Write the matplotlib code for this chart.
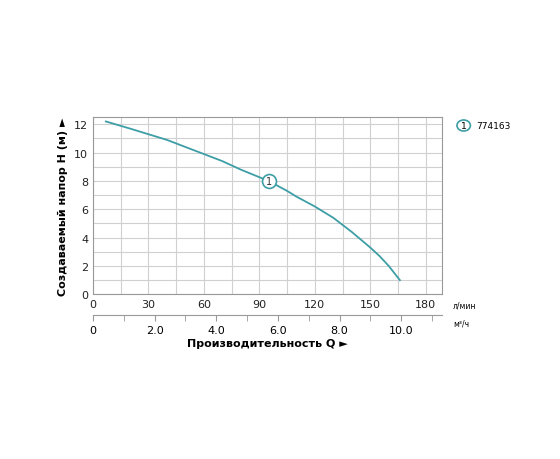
import matplotlib.pyplot as plt
import numpy as np

q_lmin = [7, 20, 30, 40, 50, 60, 70, 80, 95, 105, 110, 120, 130, 140, 150, 155, 160, 166]
head_m = [12.2, 11.7, 11.3, 10.9, 10.4, 9.9, 9.4, 8.8, 8.0, 7.3, 6.9, 6.2, 5.4, 4.4, 3.3, 2.7, 2.0, 1.0]
model = "774163"
teal = "#3e9ea6"

fig = plt.figure(figsize=(5.6, 4.6), dpi=100)
ax = fig.add_axes([0.166, 0.358, 0.624, 0.385])
ax.plot(q_lmin, head_m, color=teal, lw=1.3)
ax.plot(95, 8.0, 'o', ms=10, mfc='white', mec=teal, mew=1.2)
ax.text(95, 8.0, "1", ha='center', va='center', fontsize=7, color='#333')
ax.set_xlim(0, 189)
ax.set_ylim(0, 12.5)
ax.set_xticks(np.arange(0, 181, 15), minor=True)
ax.set_xticks([0, 30, 60, 90, 120, 150, 180])
ax.set_yticks(range(0, 13, 2))
ax.set_yticks(range(0, 13, 1), minor=True)
ax.grid(which='both', color='#d0d0d0', lw=0.8)
ax.tick_params(which='both', length=0, labelsize=8, colors='#222')
for s in ax.spines.values():
    s.set_color('#999')
ax.set_ylabel("Создаваемый напор H (м) ►", fontsize=8, fontweight='bold')
ax.text(1.03, -0.06, "л/мин", transform=ax.transAxes, fontsize=5.5, va='center')

ax2 = fig.add_axes([0.166, 0.312, 0.624, 0.001])
ax2.set_xlim(0, 189 / 16.67)
ax2.set_yticks([])
for k in ['left', 'right', 'bottom']:
    ax2.spines[k].set_visible(False)
ax2.spines['top'].set_color('#999')
ax2.set_xticks([0, 2, 4, 6, 8, 10])
ax2.set_xticklabels(["0", "2.0", "4.0", "6.0", "8.0", "10.0"])
ax2.set_xticks(np.arange(0, 11.5, 1.0), minor=True)
ax2.tick_params(axis='x', which='both', bottom=False, top=True, direction='in',
                length=4, color='#999', labelbottom=True, labelsize=8, pad=7)
ax2.text(1.03, -6, "м³/ч", transform=ax2.transAxes, fontsize=5.5, va='top')
ax2.set_xlabel("Производительность Q ►", fontsize=8, fontweight='bold', labelpad=2)

fig.patches.append(plt.Circle((0.828, 0.725), 0.012, transform=fig.transFigure,
                              fill=False, ec=teal, lw=1.2))
fig.text(0.828, 0.725, "1", ha='center', va='center', fontsize=6.5)
fig.text(0.85, 0.725, model, va='center', fontsize=6.5)
fig.savefig("out.png")
